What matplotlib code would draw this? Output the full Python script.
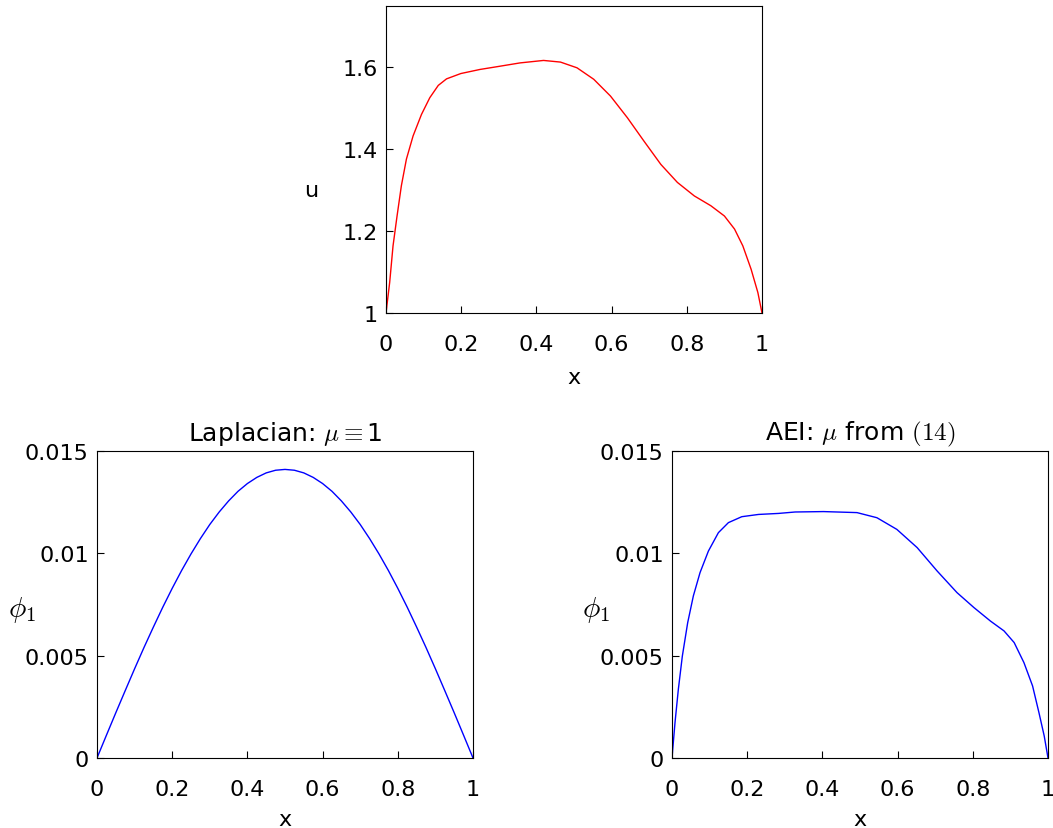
import numpy as np
from matplotlib import pyplot as plt

plt.rcParams['font.family'] = 'DejaVu Sans'
plt.rcParams['mathtext.fontset'] = 'cm'

# top panel: u(x)
x_u = [0.0, 0.0098, 0.0187, 0.0294, 0.0409, 0.0543, 0.072, 0.0943, 0.1165, 0.139,
       0.161, 0.199, 0.25, 0.2945, 0.3567, 0.419, 0.464, 0.508, 0.5525, 0.597,
       0.642, 0.686, 0.731, 0.775, 0.82, 0.864, 0.9, 0.927, 0.949, 0.971, 0.989, 1.0]
u = [1.0, 1.0748, 1.164, 1.237, 1.311, 1.376, 1.4325, 1.485, 1.526, 1.556,
     1.572, 1.585, 1.595, 1.6016, 1.611, 1.617, 1.613, 1.599, 1.571, 1.530,
     1.477, 1.420, 1.363, 1.319, 1.286, 1.262, 1.237, 1.205, 1.164, 1.107, 1.050, 1.0]

# bottom left: Laplacian eigenfunction
x_lap = [0.0, 0.025, 0.05, 0.075, 0.1, 0.125, 0.15, 0.175, 0.2, 0.225, 0.25,
         0.275, 0.3, 0.325, 0.35, 0.375, 0.4, 0.425, 0.45, 0.475, 0.5,
         0.525, 0.55, 0.575, 0.6, 0.625, 0.65, 0.675, 0.7, 0.725, 0.75,
         0.775, 0.8, 0.825, 0.85, 0.875, 0.9, 0.925, 0.95, 0.975, 1.0]
phi_lap = [0.0, 0.00111, 0.00221, 0.00329, 0.00436, 0.00540, 0.00640, 0.00737,
           0.00829, 0.00916, 0.00997, 0.01072, 0.01141, 0.01202, 0.01256, 0.01303,
           0.01341, 0.01371, 0.01393, 0.01406, 0.0141,
           0.01406, 0.01393, 0.01371, 0.01341, 0.01303, 0.01256, 0.01202, 0.01141,
           0.01072, 0.00997, 0.00916, 0.00829, 0.00737, 0.00640, 0.00540, 0.00436,
           0.00329, 0.00221, 0.00111, 0.0]

# bottom right: AEI eigenfunction
x_aei = [0.0, 0.008, 0.0169, 0.0275, 0.0417, 0.0568, 0.0746, 0.0968, 0.1234, 0.150,
         0.1856, 0.23, 0.2833, 0.3277, 0.403, 0.492, 0.545, 0.598, 0.652, 0.705,
         0.758, 0.803, 0.847, 0.883, 0.91, 0.936, 0.959, 0.976, 0.99, 1.0]
phi_aei = [0.0, 0.00173, 0.00336, 0.00498, 0.00661, 0.00792, 0.00906, 0.01011,
           0.01101, 0.0115, 0.01179, 0.0119, 0.01195, 0.01202, 0.01204, 0.01199,
           0.01174, 0.01117, 0.01028, 0.00914, 0.00808, 0.00735, 0.00669, 0.00621,
           0.00564, 0.00466, 0.00352, 0.00221, 0.00107, 0.0]

xticks = [0, 0.2, 0.4, 0.6, 0.8, 1]
xtick_labels = ['0', '0.2', '0.4', '0.6', '0.8', '1']
phi_ticks = [0, 0.005, 0.01, 0.015]
phi_tick_labels = ['0', '0.005', '0.01', '0.015']

fig = plt.figure(figsize=(10.53, 8.29), dpi=100)
W, H = 1053, 829


def make_ax(left, top, right, bottom):
    return fig.add_axes([left / W, 1 - bottom / H, (right - left) / W, (bottom - top) / H])


def style(ax, xlab_y):
    ax.set_xlim(0, 1)
    ax.set_xticks(xticks)
    ax.set_xticklabels(xtick_labels)
    ax.tick_params(direction='in', length=5, labelsize=16, top=False, right=False)
    ax.tick_params(axis='x', pad=15)
    ax.tick_params(axis='y', pad=6)
    ax.set_xlabel('x', fontsize=16, va='center')
    ax.xaxis.set_label_coords(0.5, xlab_y)
    for s in ax.spines.values():
        s.set_linewidth(0.8)


ax1 = make_ax(386, 7, 762, 314)
ax1.plot(x_u, u, c='red', lw=1)
style(ax1, -0.21)
ax1.set_ylim(1, 1.75)
ax1.set_yticks([1, 1.2, 1.4, 1.6])
ax1.set_yticklabels(['1', '1.2', '1.4', '1.6'])
ax1.set_ylabel('u', fontsize=16, rotation=0, ha='center', va='center')
ax1.yaxis.set_label_coords(-0.2, 0.40)

ax2 = make_ax(97, 452, 473, 759)
ax2.plot(x_lap, phi_lap, c='blue', lw=1)
style(ax2, -0.2)
ax2.set_ylim(0, 0.015)
ax2.set_yticks(phi_ticks)
ax2.set_yticklabels(phi_tick_labels)
ax2.set_ylabel(r'$\phi_1$', fontsize=21, rotation=0, ha='center', va='center')
ax2.yaxis.set_label_coords(-0.2, 0.485)
ax2.set_title(r'Laplacian: $\mu\equiv$1', fontsize=18, pad=8)

ax3 = make_ax(672, 452, 1048, 759)
ax3.plot(x_aei, phi_aei, c='blue', lw=1)
style(ax3, -0.2)
ax3.set_ylim(0, 0.015)
ax3.set_yticks(phi_ticks)
ax3.set_yticklabels(phi_tick_labels)
ax3.set_ylabel(r'$\phi_1$', fontsize=21, rotation=0, ha='center', va='center')
ax3.yaxis.set_label_coords(-0.202, 0.485)
ax3.set_title(r'AEI: $\mu$ from $(14)$', fontsize=18, pad=8)

plt.savefig('out.png', dpi=100)
